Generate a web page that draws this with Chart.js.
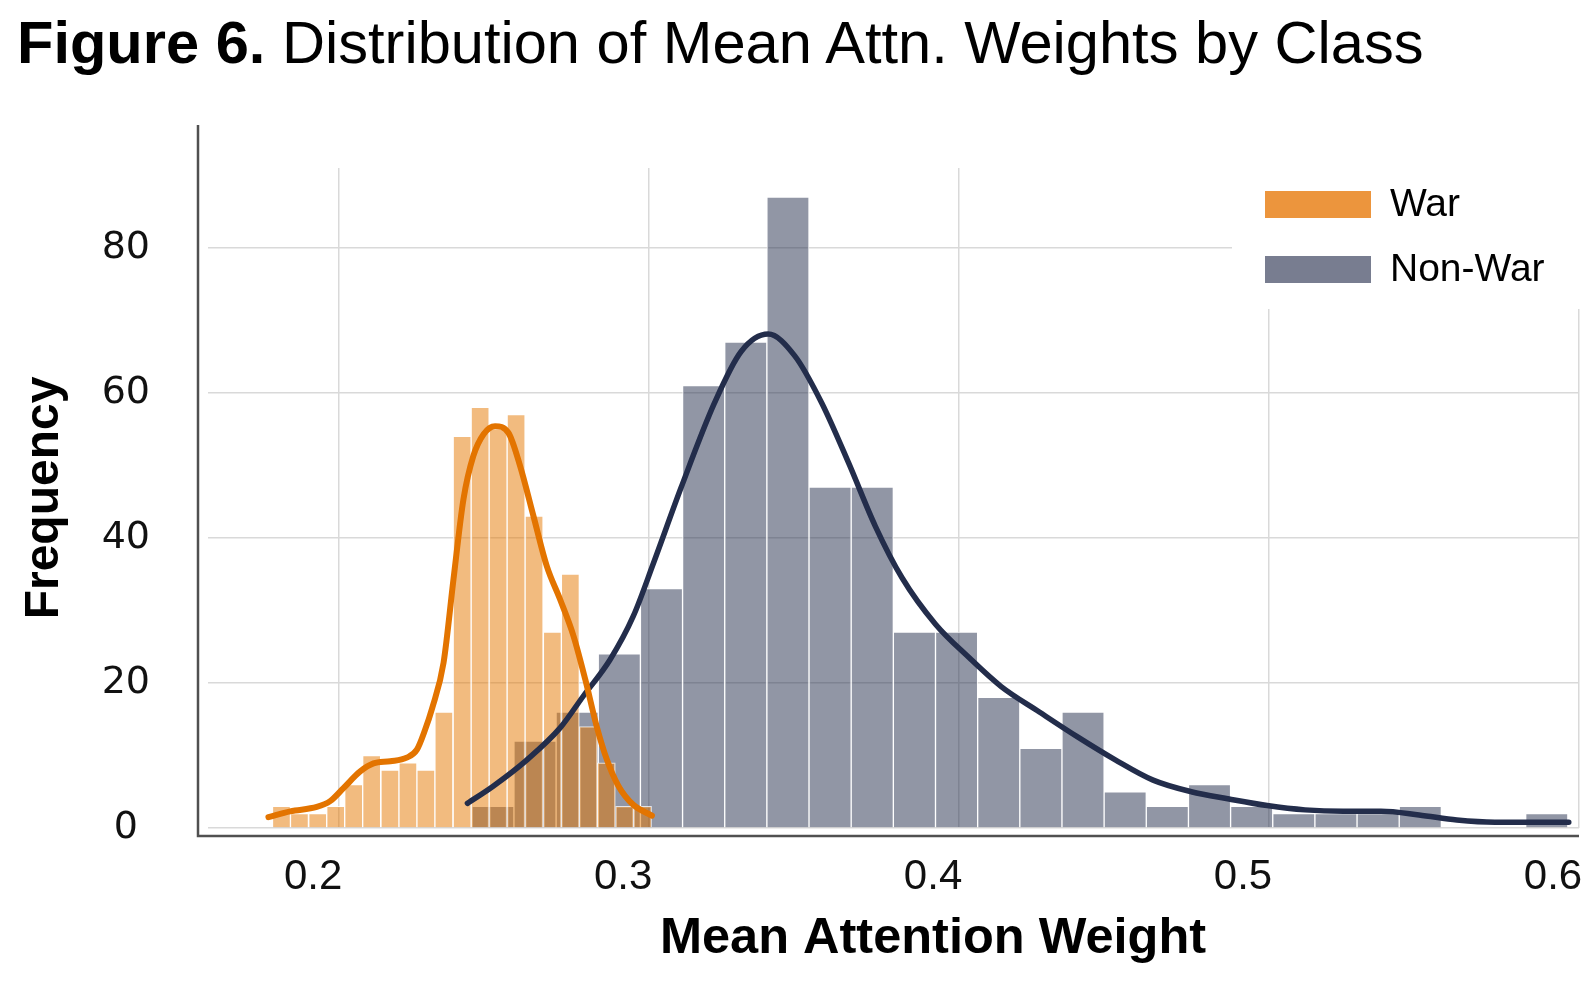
<!DOCTYPE html>
<html>
<head>
<meta charset="utf-8">
<title>Figure 6</title>
<script src="https://cdn.jsdelivr.net/npm/chart.js@4.4.1/dist/chart.umd.min.js"></script>
<style>
  html, body { margin: 0; padding: 0; background: #fff; }
  #wrap { position: relative; width: 1594px; height: 994px; overflow: hidden; }
  #histChart { position: absolute; left: 0; top: 0; }
  #title {
    position: absolute; left: 17px; top: 13px;
    font: 59.6px/59px "Liberation Sans", Arial, sans-serif;
    color: #000; white-space: nowrap;
  }
</style>
</head>
<body>
<div id="wrap">
  <canvas id="histChart" width="1594" height="994"></canvas>
  <div id="title"><b>Figure 6.</b> Distribution of Mean Attn. Weights by Class</div>
</div>

<script>
// ---------- DATA ----------

const classNames = ["War", "Non-War"];

// histogram bins (centre of each bin) and counts
const warBinCenters = [
  0.1814, 0.1872, 0.1931, 0.1989, 0.2047, 0.2105, 0.2164, 0.2222, 0.2280,
  0.2338, 0.2397, 0.2455, 0.2513, 0.2571, 0.2629, 0.2688, 0.2746, 0.2804,
  0.2862, 0.2921, 0.2979,
];
const warCounts = [
  3, 2, 2, 3, 6, 10, 8, 9, 8, 16, 54, 58, 55, 57, 43, 27, 35, 14, 9, 3, 3,
];

const nonWarBinCenters = [
  0.2496, 0.2632, 0.2768, 0.2904, 0.3040, 0.3176, 0.3312, 0.3448, 0.3584,
  0.3720, 0.3856, 0.3992, 0.4128, 0.4264, 0.4400, 0.4536, 0.4672, 0.4808,
  0.4944, 0.5080, 0.5216, 0.5352, 0.5488, 0.5624, 0.5760, 0.5896,
];
const nonWarCounts = [
  3, 12, 16, 24, 33, 61, 67, 87, 47, 47, 27, 27, 18, 11, 16, 5, 3, 6, 3, 2, 2,
  2, 3, 0, 0, 2,
];

// density curves (scaled to counts)
const warKdeX = [
  0.1772, 0.1842, 0.1928, 0.1971, 0.2014, 0.2068, 0.2111, 0.2165, 0.2218,
  0.2251, 0.2277, 0.2300, 0.2337, 0.2369, 0.2401, 0.2433, 0.2466, 0.2503,
  0.2546, 0.2584, 0.2627, 0.2670, 0.2713, 0.2756, 0.2794, 0.2831, 0.2864,
  0.2901, 0.2949, 0.3009,
];
const warKdeY = [
  1.5, 2.3, 2.9, 3.7, 5.5, 7.8, 8.9, 9.2, 9.7, 10.8, 13.5, 16.5, 22.8, 34.3,
  45.3, 51.3, 54.3, 55.4, 54.5, 49.9, 43.0, 36.1, 31.5, 26.5, 20.5, 14.0, 9.4,
  5.8, 3.2, 1.7,
];

const nonWarKdeX = [
  0.2414, 0.2498, 0.2606, 0.2713, 0.2788, 0.2874, 0.2949, 0.3014, 0.3103,
  0.3211, 0.3297, 0.3384, 0.3470, 0.3557, 0.3643, 0.3730, 0.3816, 0.3924,
  0.4032, 0.4136, 0.4259, 0.4381, 0.4504, 0.4626, 0.4749, 0.4871, 0.4994,
  0.5116, 0.5239, 0.5361, 0.5484, 0.5606, 0.5729, 0.5851, 0.5967,
];
const nonWarKdeY = [
  3.4, 5.8, 9.4, 13.8, 18.2, 23.2, 29.2, 36.5, 46.9, 58.6, 65.7, 68.1, 65.1,
  58.6, 50.4, 41.6, 34.5, 28.1, 23.5, 19.5, 16.0, 12.6, 9.4, 6.6, 5.0, 4.0,
  3.1, 2.5, 2.3, 2.3, 1.8, 1.1, 0.8, 0.8, 0.8,
];

const xTicks = [0.2, 0.3, 0.4, 0.5, 0.6];
const yTicks = [0, 20, 40, 60, 80];

// ---------- HELPERS ----------

function toPoints(xs, ys) {
  return xs.map((x, i) => ({ x, y: ys[i] }));
}

function setTicks(values) {
  return (scale) => {
    scale.ticks = values.map((value) => ({ value }));
  };
}

const legendColors = ["#ec953d", "#787d90"];

// spines pushed away from the plot, axis titles, boxed legend
const figureDecor = {
  id: "figureDecor",
  beforeDatasetsDraw(chart) {
    const { ctx, chartArea } = chart;
    ctx.save();
    ctx.fillStyle = "#fff";
    ctx.fillRect(1232, chartArea.top - 2, chartArea.right - 1232 + 4, 309 - chartArea.top + 2);
    ctx.restore();
  },
  afterDraw(chart) {
    const { ctx, chartArea } = chart;
    ctx.save();

    // spines
    ctx.strokeStyle = "#505050";
    ctx.lineWidth = 2.5;
    ctx.beginPath();
    ctx.moveTo(chartArea.left - 10, 125);
    ctx.lineTo(chartArea.left - 10, chartArea.bottom + 8);
    ctx.lineTo(chartArea.right, chartArea.bottom + 8);
    ctx.stroke();

    // axis titles
    ctx.fillStyle = "#000";
    ctx.textAlign = "center";
    ctx.textBaseline = "alphabetic";
    ctx.font = "bold 50.5px 'Liberation Sans', Arial, sans-serif";
    ctx.fillText("Mean Attention Weight", 933, 953);

    ctx.font = "bold 48px 'Liberation Sans', Arial, sans-serif";
    ctx.save();
    ctx.translate(58, (chartArea.top + chartArea.bottom) / 2);
    ctx.rotate(-Math.PI / 2);
    ctx.fillText("Frequency", 0, 0);
    ctx.restore();

    // legend
    ctx.font = "39px 'Liberation Sans', Arial, sans-serif";
    ctx.textAlign = "left";
    ctx.textBaseline = "middle";
    classNames.forEach((name, i) => {
      const y = 191 + i * 65;
      ctx.fillStyle = legendColors[i];
      ctx.fillRect(1265, y, 106, 27);
      ctx.fillStyle = "#000";
      ctx.fillText(name, 1390, y + 14);
    });

    ctx.restore();
  },
};

// ---------- CHART ----------

const gridStyle = { color: "#d9d9d9", lineWidth: 1.5, drawTicks: false, offset: false };

new Chart(document.getElementById("histChart"), {
  type: "bar",
  data: {
    datasets: [
      {
        type: "line",
        label: "War density",
        data: toPoints(warKdeX, warKdeY),
        xAxisID: "x",
        borderColor: "#e37400",
        borderWidth: 6,
        borderCapStyle: "round",
        borderJoinStyle: "round",
        pointRadius: 0,
        cubicInterpolationMode: "monotone",
        order: 0,
      },
      {
        type: "line",
        label: "Non-War density",
        data: toPoints(nonWarKdeX, nonWarKdeY),
        xAxisID: "x",
        borderColor: "#232d4b",
        borderWidth: 5.5,
        borderCapStyle: "round",
        borderJoinStyle: "round",
        pointRadius: 0,
        cubicInterpolationMode: "monotone",
        order: 1,
      },
      {
        label: classNames[0],
        data: toPoints(warBinCenters, warCounts),
        xAxisID: "x",
        backgroundColor: "rgba(229,120,0,0.5)",
        borderColor: "rgba(255,255,255,0.75)",
        borderWidth: 1,
        barPercentage: 1,
        categoryPercentage: 1,
        grouped: false,
        order: 2,
      },
      {
        label: classNames[1],
        data: toPoints(nonWarBinCenters, nonWarCounts),
        xAxisID: "x2",
        backgroundColor: "rgba(35,45,75,0.5)",
        borderColor: "rgba(255,255,255,0.75)",
        borderWidth: 1,
        barPercentage: 1,
        categoryPercentage: 1,
        grouped: false,
        order: 3,
      },
    ],
  },
  options: {
    responsive: false,
    animation: false,
    events: [],
    layout: { padding: { top: 168, right: 15, left: 0, bottom: 0 } },
    plugins: {
      legend: { display: false },
      title: { display: false },
      tooltip: { enabled: false },
    },
    scales: {
      x: {
        type: "linear",
        offset: false,
        min: 0.1577,
        max: 0.6,
        afterBuildTicks: setTicks(xTicks),
        afterFit: (scale) => {
          scale.height = 166;
          // labels are shifted left, so no overhang room is needed
          scale.paddingLeft = 0;
          scale.paddingRight = 0;
        },
        grid: gridStyle,
        border: { display: false },
        ticks: {
          color: "#111",
          font: { family: "'Liberation Sans', Arial, sans-serif", size: 42 },
          padding: 24,
          labelOffset: -26,
          maxRotation: 0,
          autoSkip: false,
          callback: (v) => Number(v).toFixed(1),
        },
      },
      x2: {
        type: "linear",
        offset: false,
        min: 0.1577,
        max: 0.6,
        display: false,
        grid: { offset: false },
      },
      y: {
        type: "linear",
        min: 0,
        max: 91,
        afterBuildTicks: setTicks(yTicks),
        afterFit: (scale) => { scale.width = 208; },
        grid: gridStyle,
        border: { display: false },
        ticks: {
          color: "#111",
          font: { family: "'DejaVu Sans', sans-serif", size: 38 },
          padding: 58,
          crossAlign: "center",
          callback: (v) => String(v),
        },
      },
    },
  },
  plugins: [figureDecor],
});
</script>
</body>
</html>
